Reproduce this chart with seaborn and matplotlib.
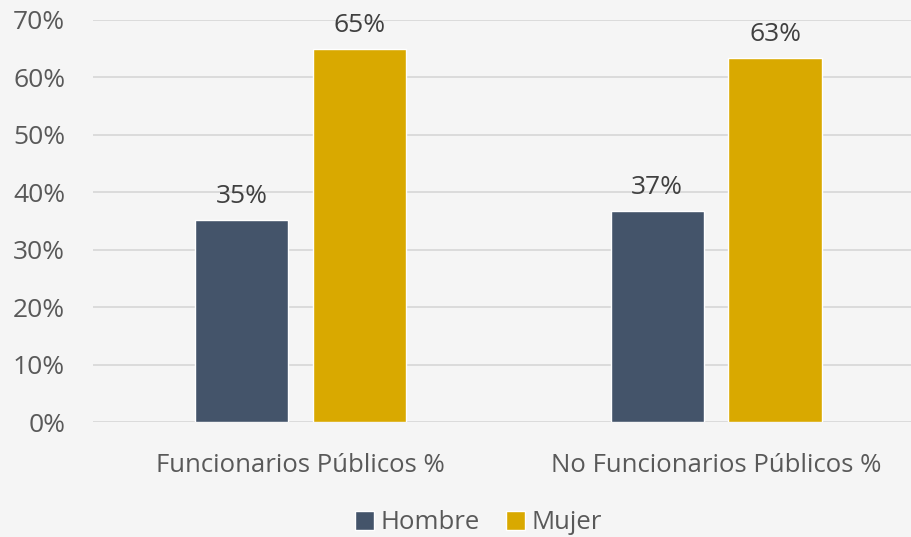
import matplotlib
matplotlib.use("Agg")
import matplotlib.pyplot as plt
import seaborn as sns
import pandas as pd
from matplotlib.ticker import PercentFormatter

categories = ["Funcionarios Públicos %", "No Funcionarios Públicos %"]
series = ["Hombre", "Mujer"]
hombre = [0.351, 0.367]
mujer = [0.649, 0.633]
labels_h = ["35%", "37%"]
labels_m = ["65%", "63%"]

df = pd.DataFrame({
    "cat": categories * 2,
    "sexo": [series[0]] * 2 + [series[1]] * 2,
    "val": hombre + mujer,
})

sns.set_theme(style="white")
plt.rcParams["font.family"] = ["Open Sans", "DejaVu Sans"]

BG = "#f5f5f5"
fig = plt.figure(figsize=(9.11, 5.37), dpi=100, facecolor=BG)
ax = fig.add_axes([0.102, 0.214, 0.912, 0.749])
ax.set_facecolor(BG)

sns.barplot(data=df, x="cat", y="val", hue="sexo", order=categories,
            hue_order=series, palette=["#44546a", "#d9a900"],
            width=0.568, gap=0.211, ax=ax, legend=True, saturation=1)

ax.set_ylim(0, 0.7)
ax.set_yticks([i / 10 for i in range(8)])
ax.yaxis.set_major_formatter(PercentFormatter(1.0, decimals=0))
ax.grid(axis="y", color="#d9d9d9", linewidth=1.3)
ax.set_axisbelow(True)
for s in ax.spines.values():
    s.set_visible(False)
ax.tick_params(axis="y", length=0, pad=20, labelsize=19, labelcolor="#595959")
ax.tick_params(axis="x", length=0, pad=22, labelsize=18.5, labelcolor="#595959")
ax.set_xlabel("")
ax.set_ylabel("")

for cont, labs in zip(ax.containers, [labels_h, labels_m]):
    ax.bar_label(cont, labels=labs, padding=8, fontsize=19, color="#404040")

handles, labs = ax.get_legend_handles_labels()
ax.get_legend().remove()
leg = fig.legend(handles, labs, loc="lower center", bbox_to_anchor=(0.525, -0.04),
                 ncol=2, frameon=False, fontsize=18.5, handlelength=0.75,
                 handleheight=0.75, handletextpad=0.25, columnspacing=1.0)
for t in leg.get_texts():
    t.set_color("#595959")

fig.savefig("out.png", dpi=100, facecolor=BG)
